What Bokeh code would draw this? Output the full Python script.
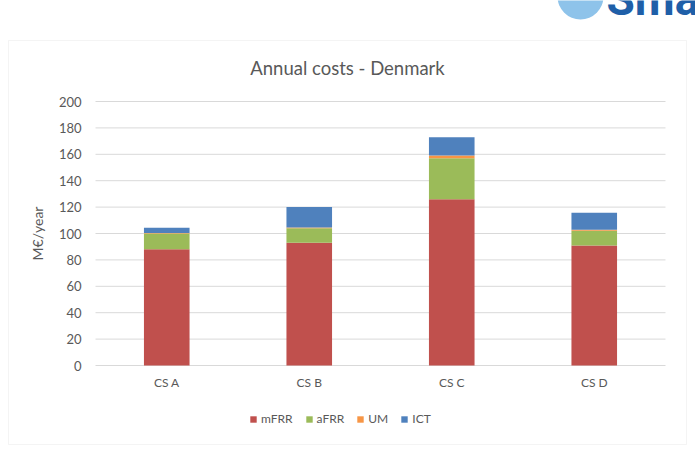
import math
from bokeh.plotting import figure
from bokeh.models import ColumnDataSource, Legend, LegendItem, BoxAnnotation
from bokeh.core.properties import value
from bokeh.embed import file_html
from bokeh.resources import INLINE

categories = ["CS A", "CS B", "CS C", "CS D"]
series = ["mFRR", "aFRR", "UM", "ICT"]
mfrr = [88, 93, 126, 91]
afrr = [12, 11, 31, 11]
um = [0.3, 0.5, 2, 0.8]
ict = [4, 15.5, 14, 13]
colors = ["#C0504D", "#9BBB59", "#F79646", "#4F81BD"]
y_ticks = list(range(0, 201, 20))

FONT = "Lato"
GREY = "#595959"
W, H = 695, 452

# layout: plot area in window pixels
PL, PR, PT, PB = 95, 665, 101, 365
YMAX = 200
n = len(categories)
sx = (PR - PL) / n
sy = (PB - PT) / YMAX


def dx(px):
    return (px - PL) / sx


def dy(py):
    return (PB - py) / sy


xs = [i + 0.5 for i in range(n)]
src = ColumnDataSource(dict(x=xs, cat=categories, mFRR=mfrr, aFRR=afrr, UM=um, ICT=ict))

p = figure(width=W, height=H, x_range=(dx(0), dx(W)), y_range=(dy(H), dy(0)),
           output_backend="svg", toolbar_location=None,
           min_border=0, min_border_left=0, min_border_right=0,
           min_border_top=0, min_border_bottom=0)
p.xaxis.visible = False
p.yaxis.visible = False
p.xgrid.grid_line_color = None
p.ygrid.grid_line_color = None
p.outline_line_color = None
p.background_fill_color = "white"
p.border_fill_color = "white"

# outer chart-area border
p.add_layout(BoxAnnotation(left=dx(8), right=dx(686), top=dy(40), bottom=dy(444),
                           fill_alpha=0, line_color="#d9d9d9", line_width=1))

# horizontal gridlines
p.segment(x0=[0] * len(y_ticks), x1=[n] * len(y_ticks), y0=y_ticks, y1=y_ticks,
          line_color="#d9d9d9", line_width=1)

rs = p.vbar_stack(series, x="x", width=0.32, color=colors, source=src, line_color=None)

# y tick labels
p.text(x=[dx(81)] * len(y_ticks), y=y_ticks, text=[str(t) for t in y_ticks],
       text_align="right", text_baseline="middle", text_font=value(FONT),
       text_font_size="13px", text_color=GREY)
# y axis label
p.text(x=[dx(37)], y=[YMAX / 2], text=["M€/year"], angle=math.pi / 2,
       text_align="center", text_baseline="middle", text_font=value(FONT),
       text_font_size="14px", text_color=GREY)
# category labels
p.text(x="x", y=value(dy(382)), text="cat", source=src,
       text_align="center", text_baseline="middle", text_font=value(FONT),
       text_font_size="12px", text_color=GREY)
# title (centred on the chart area)
p.text(x=[dx(347)], y=[dy(67)], text=["Annual costs - Denmark"],
       text_align="center", text_baseline="middle", text_font=value(FONT),
       text_font_size="18.5px", text_color=GREY)

# logo fragment (top right of the slide)
p.scatter(x=[dx(580)], y=[dy(-4)], size=46, color="#8ec3ea", line_color=None)
p.text(x=[dx(606)], y=[dy(-2)], text=["Sma"], text_align="left", text_baseline="middle",
       text_font=value("Roboto"), text_font_style="bold", text_font_size="46px",
       text_color="#1f5fa8")

legend = Legend(items=[LegendItem(label=s, renderers=[r]) for s, r in zip(series, rs)],
                orientation="horizontal", location=(249, 26),
                label_text_font=FONT, label_text_font_size="12px", label_text_color=GREY,
                glyph_width=8, glyph_height=8, spacing=12, label_standoff=4,
                border_line_color=None, background_fill_alpha=0, padding=0, margin=0)
p.add_layout(legend)

open("out.html", "w").write(file_html(p, INLINE))
